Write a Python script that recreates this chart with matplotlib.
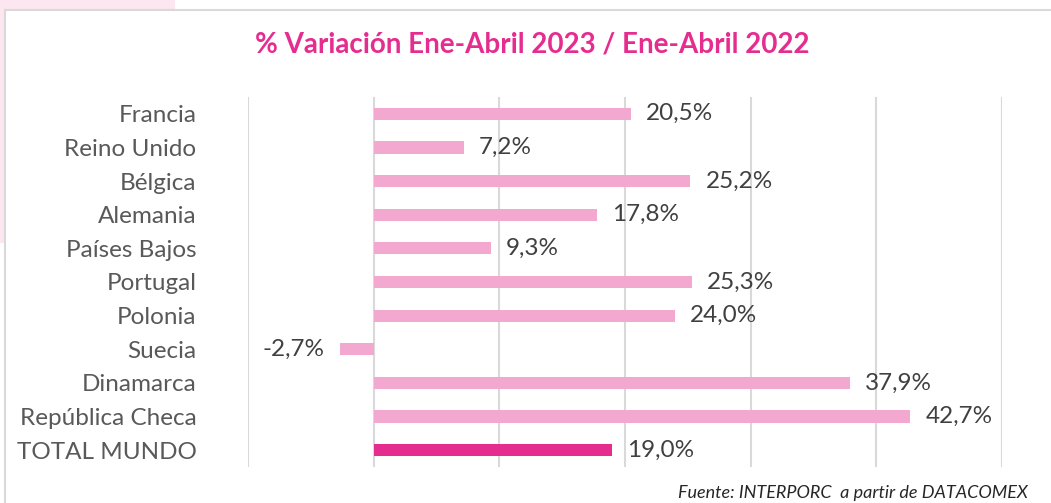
import matplotlib.pyplot as plt
from matplotlib.patches import Rectangle

plt.rcParams['font.family'] = ['Lato', 'DejaVu Sans']

paises = ['Francia', 'Reino Unido', 'Bélgica', 'Alemania', 'Países Bajos',
          'Portugal', 'Polonia', 'Suecia', 'Dinamarca', 'República Checa',
          'TOTAL MUNDO']
variacion = [20.5, 7.2, 25.2, 17.8, 9.3, 25.3, 24.0, -2.7, 37.9, 42.7, 19.0]
ticks_x = [-10, 0, 10, 20, 30, 40, 50]

rosa = '#F3A8D0'
fucsia = '#E52D8F'
gris_texto = '#595959'

fig = plt.figure(figsize=(10.51, 5.03), dpi=100)

# fondo rosado detrás del recuadro y marco gris
fig.patches.append(Rectangle((0, 1 - 243 / 503), 175 / 1051, 243 / 503,
                             transform=fig.transFigure, facecolor='#FCE6EF',
                             edgecolor='none', zorder=0))
fig.patches.append(Rectangle((5 / 1051, -0.05), 1.1, 1 - 10 / 503 + 0.05,
                             transform=fig.transFigure, facecolor='white',
                             edgecolor='#D9D9D9', linewidth=1.5, zorder=1))

ax = fig.add_axes([248 / 1051, 1 - 467 / 503, 754 / 1051, 370 / 503])
ax.set_zorder(2)
ax.patch.set_alpha(0)

y = list(range(len(paises)))
colores = [rosa] * (len(paises) - 1) + [fucsia]
ax.barh(y, variacion, height=0.36, color=colores, zorder=3)

for yi, v in zip(y, variacion):
    txt = f'{v:.1f}%'.replace('.', ',')
    if v >= 0:
        ax.text(v + 1.2, yi, txt, va='center', ha='left', fontsize=17.5,
                color='#404040')
    else:
        ax.text(v - 1.2, yi, txt, va='center', ha='right', fontsize=17.5,
                color='#404040')

ax.set_xlim(-10, 50)
ax.set_ylim(len(paises) - 0.5, -0.5)
ax.set_xticks(ticks_x)
ax.set_xticklabels([])
ax.tick_params(axis='x', length=0)
ax.set_yticks(y)
ax.set_yticklabels(paises, fontsize=17.5, color=gris_texto)
ax.tick_params(axis='y', length=0, pad=37)
ax.grid(axis='x', color='#D9D9D9', linewidth=1.5, zorder=0)
for s in ax.spines.values():
    s.set_visible(False)

fig.text(532 / 1051, 1 - 45 / 503,
         '% Variación Ene-Abril 2023 / Ene-Abril 2022',
         ha='center', va='center', fontsize=20, fontweight='bold',
         color=fucsia, zorder=3)
fig.text(1028 / 1051, 1 - 493 / 503,
         'Fuente: INTERPORC  a partir de DATACOMEX',
         ha='right', va='center', fontsize=13, style='italic',
         color='#262626', zorder=3)

fig.savefig('out.png', dpi=100)
